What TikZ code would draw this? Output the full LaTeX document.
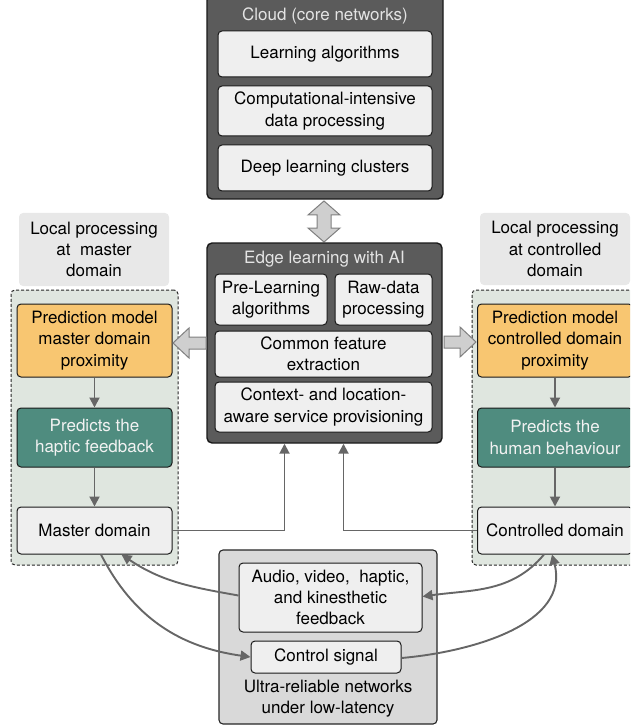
\documentclass[tikz,border=0pt]{standalone}
\usepackage{fontspec}
\setmainfont{TeX Gyre Heros}
\usetikzlibrary{arrows.meta}
\definecolor{darkfill}{HTML}{5B5B5B}
\definecolor{lightfill}{HTML}{EFEFEF}
\definecolor{titlegray}{HTML}{E4E4E4}
\definecolor{labelfill}{HTML}{E8E8E8}
\definecolor{greenfill}{HTML}{DFE6DF}
\definecolor{orangefill}{HTML}{F8C671}
\definecolor{tealfill}{HTML}{4F8C7F}
\definecolor{netfill}{HTML}{D9D9D9}
\definecolor{arrowgray}{HTML}{666666}
\definecolor{fatfill}{HTML}{CFCFCF}
\definecolor{fatdraw}{HTML}{808080}
\begin{document}
\begin{tikzpicture}[x=1pt,y=-1pt,
  font=\fontsize{17}{21.2}\selectfont,
  box/.style={draw=black!90, fill=lightfill, rounded corners=4pt, line width=1pt,
    align=center, inner sep=0pt, text=black},
  darkbox/.style={draw=black!90, fill=darkfill, rounded corners=5pt, line width=1.4pt, inner sep=0pt},
  labelbox/.style={fill=labelfill, rounded corners=4pt, align=center, inner sep=0pt, text=black},
  container/.style={draw=black!85, fill=greenfill, dash pattern=on 3pt off 2pt, line width=1pt, rounded corners=4pt, inner sep=0pt},
  orangebox/.style={box, fill=orangefill},
  tealbox/.style={box, fill=tealfill, text=white!95!black},
  netbox/.style={draw=black!85, fill=netfill, rounded corners=4pt, line width=1.1pt, inner sep=0pt},
  arr/.style={draw=arrowgray, line width=1.9pt, -{Triangle[length=10pt,width=10pt]}},
  fat/.style={fill=fatfill, draw=fatdraw, line width=1pt, line join=miter}
]
\useasboundingbox (0,0) rectangle (630,727);
\clip (0,0) rectangle (630,727);

% Cloud
\node[darkbox, minimum width=236, minimum height=204] (cloud) at (325,97) {};
\node[text=titlegray] (cloudt) at (325,16) {Cloud (core networks)};
\node[box, minimum width=214, minimum height=46] (la) at (325,54) {Learning algorithms};
\node[box, minimum width=214, minimum height=50] (ci) at (325,111) {Computational-intensive\\data processing};
\node[box, minimum width=214, minimum height=46] (dl) at (325,168) {Deep learning clusters};

% Double arrow
\draw[fat] (324,201) -- (340,215) -- (331,215) -- (331,228) -- (340,228) -- (324,242)
  -- (308,228) -- (317,228) -- (317,215) -- (308,215) -- cycle;

% Edge
\node[darkbox, minimum width=235, minimum height=200] (edge) at (324.5,343) {};
\node[text=titlegray] (edget) at (324.5,259) {Edge learning with AI};
\node[box, minimum width=112, minimum height=51] (pl) at (271,299.5) {Pre-Learning\\algorithms};
\node[box, minimum width=97, minimum height=51] (rd) at (383.5,299.5) {Raw-data\\processing};
\node[box, minimum width=217, minimum height=46] (cf) at (323.5,354) {Common feature\\extraction};
\node[box, minimum width=217, minimum height=50] (cl) at (323.5,407) {Context- and location-\\aware service provisioning};

% Left side
\node[labelbox, minimum width=150, minimum height=73] (ll) at (94,249.5) {Local processing\\at\ \ master\\domain};
\node[container, minimum width=167, minimum height=275] (lc) at (94.5,427.5) {};
\node[orangebox, minimum width=155, minimum height=73] (lo) at (94.5,340.5) {Prediction model\\master domain\\proximity};
\node[tealbox, minimum width=155, minimum height=59] (lt) at (94.5,437.5) {Predicts the\\haptic feedback};
\node[box, minimum width=155, minimum height=47] (md) at (94.5,530.5) {Master domain};

% Right side
\node[labelbox, minimum width=150, minimum height=72] (rl) at (555,249) {Local processing\\at controlled\\domain};
\node[container, minimum width=166, minimum height=275] (rc) at (555,427.5) {};
\node[orangebox, minimum width=155, minimum height=73] (ro) at (555,340.5) {Prediction model\\controlled domain\\proximity};
\node[tealbox, minimum width=155, minimum height=59] (rt) at (555,437.5) {Predicts the\\human behaviour};
\node[box, minimum width=155, minimum height=47] (cd) at (555,530.5) {Controlled domain};

% Fat side arrows
\draw[fat] (173,343) -- (189,328) -- (189,337) -- (206,337) -- (206,349) -- (189,349) -- (189,358) -- cycle;
\draw[fat] (476,342) -- (460,327) -- (460,336) -- (444,336) -- (444,348) -- (460,348) -- (460,357) -- cycle;

% Network box
\node[netbox, minimum width=218, minimum height=174] (net) at (328,637) {};
\node[box, minimum width=183, minimum height=69] (av) at (330.5,597.5) {Audio, video,\ \ haptic,\\and kinesthetic\\feedback};
\node[box, minimum width=150, minimum height=32] (cs) at (326,657) {Control signal};
\node[align=center, text=black, inner sep=0pt] (ur) at (328,699) {Ultra-reliable networks\\under low-latency};

% Vertical arrows
\draw[arr] (lo) -- (lt);
\draw[arr] (lt) -- (md);
\draw[arr] (ro) -- (rt);
\draw[arr] (rt) -- (cd);

% To edge
\draw[arr] (md.east) -| ([xshift=-40]edge.south);
\draw[arr] (cd.west) -| ([xshift=19]edge.south);

% Curves
\draw[arr] ([xshift=6.5]md.south) to[out=-63, in=172] (cs.west);
\draw[arr] ([yshift=2]av.west) to[out=170, in=-34] ([xshift=27]md.south);
\draw[arr] ([xshift=-11]cd.south) to[out=-130, in=8] ([yshift=1]av.east);
\draw[arr] ([yshift=-1]cs.east) to[out=5, in=-75] ([xshift=-3]cd.south);
\end{tikzpicture}
\end{document}
